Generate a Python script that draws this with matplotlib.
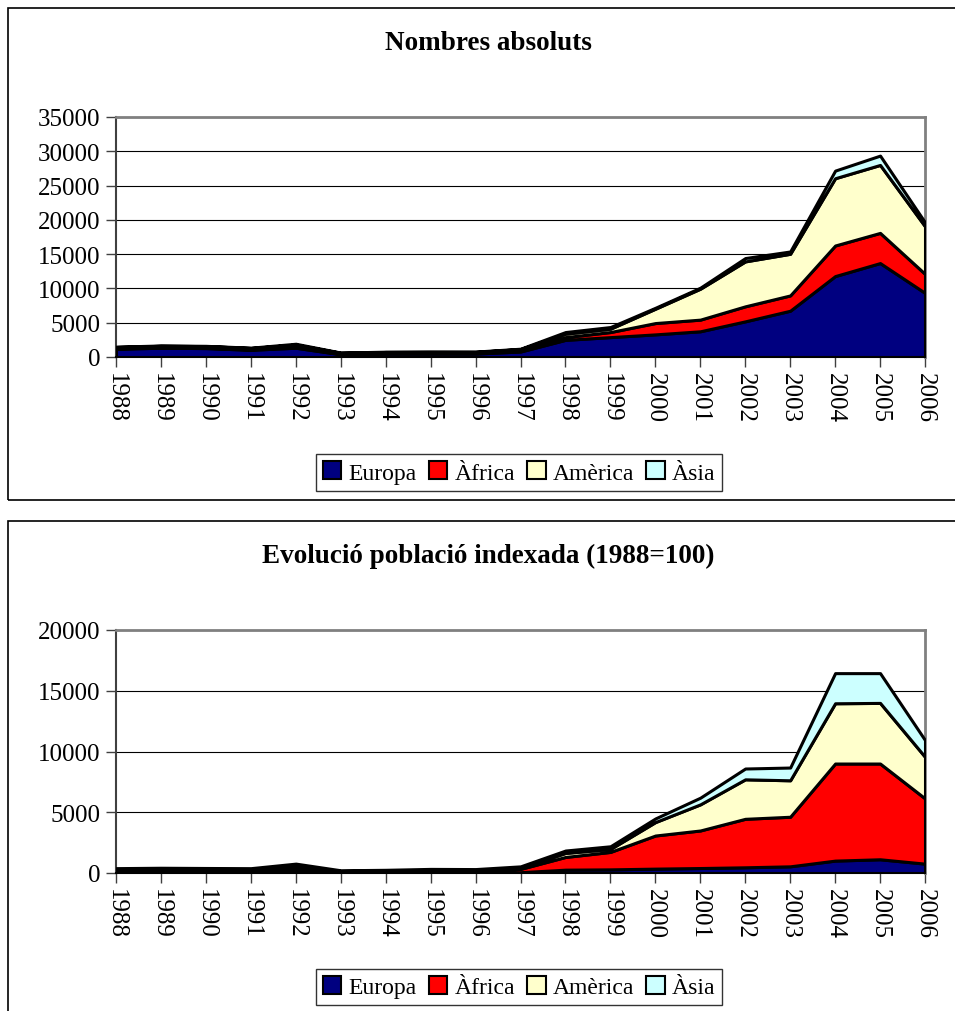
import matplotlib
matplotlib.use('agg')
import matplotlib.pyplot as plt
from matplotlib.patches import Rectangle, Patch

plt.rcParams['font.family'] = ['Liberation Serif', 'DejaVu Serif']

years = list(range(1988, 2007))
regions = ['Europa', 'Àfrica', 'Amèrica', 'Àsia']
colors = ['#000080', '#FF0000', '#FFFFCC', '#CCFFFF']

# absolute numbers (top chart)
europa_abs = [1200, 1350, 1300, 1050, 1350, 400, 500, 500, 500, 800,
              2500, 2900, 3300, 3750, 5200, 6750, 11800, 13700, 9350]
africa_abs = [55, 60, 60, 60, 140, 50, 60, 70, 80, 150,
              400, 740, 1650, 1700, 2190, 2230, 4460, 4400, 2770]
america_abs = [200, 220, 230, 200, 320, 160, 170, 170, 160, 200,
               500, 490, 2090, 4510, 6550, 6070, 9810, 9910, 6940]
asia_abs = [50, 50, 40, 50, 125, 40, 45, 60, 50, 60,
            240, 240, 140, 150, 490, 340, 1110, 1360, 580]

# indexed population, 1988 = 100 (bottom chart)
europa_idx = [100, 112, 108, 88, 112, 29, 38, 38, 38, 67,
              275, 300, 360, 410, 470, 550, 1020, 1130, 770]
africa_idx = [100, 110, 110, 110, 250, 75, 90, 110, 130, 270,
              1045, 1435, 2725, 3090, 3990, 4080, 7990, 7880, 5370]
america_idx = [100, 110, 115, 100, 160, 60, 65, 70, 65, 90,
               330, 245, 1105, 2150, 3250, 3000, 4960, 4990, 3420]
asia_idx = [100, 100, 80, 100, 250, 60, 70, 120, 90, 120,
            200, 220, 300, 550, 890, 1050, 2480, 2450, 1380]

W, H = 955, 1012
fig = plt.figure(figsize=(W / 100, H / 100), dpi=100)

# panel frames
fig.patches.append(Rectangle((8 / W, 1 - 500.5 / H), 1.0, 492 / H,
                             transform=fig.transFigure, fill=False,
                             edgecolor='black', linewidth=1.2))
fig.patches.append(Rectangle((8 / W, -0.05), 1.0, 1 - 522.5 / H + 0.05,
                             transform=fig.transFigure, fill=False,
                             edgecolor='black', linewidth=1.2))


def draw_panel(rect, series, ymax, title, title_y, legend_y):
    ax = fig.add_axes(rect)
    ax.stackplot(years, *series, colors=colors, edgecolor='black',
                 linewidth=2.2, zorder=3)
    ax.set_xlim(1988, 2006)
    ax.set_ylim(0, ymax)
    ax.set_yticks(range(0, ymax + 1, 5000))
    ax.set_xticks(years)
    ax.set_xticklabels([str(y) for y in years], rotation=-90)
    ax.yaxis.grid(True, color='black', linewidth=0.8, zorder=1)
    ax.set_axisbelow(True)
    ax.tick_params(axis='both', labelsize=18, direction='out', length=7,
                   width=1, color='#404040', pad=4)
    for s in ['top', 'right']:
        ax.spines[s].set_color('#808080')
        ax.spines[s].set_linewidth(2)
    ax.spines['left'].set_color('#404040')
    ax.spines['left'].set_linewidth(1.5)
    ax.spines['bottom'].set_color('black')
    ax.spines['bottom'].set_linewidth(1.5)
    fig.text(488 / W, title_y, title, ha='center', va='center',
             fontsize=19.5, fontweight='bold')
    handles = [Patch(facecolor=c, edgecolor='black', linewidth=1.5, label=r)
               for c, r in zip(colors, regions)]
    leg = fig.legend(handles=handles, loc='center', ncol=4,
                     bbox_to_anchor=(519 / W, legend_y), fontsize=17,
                     frameon=True, fancybox=False, handlelength=0.8,
                     handleheight=0.8, handletextpad=0.3, columnspacing=0.5,
                     borderpad=0.3, borderaxespad=0)
    leg.get_frame().set_edgecolor('black')
    leg.get_frame().set_linewidth(1)
    return ax


draw_panel([116 / W, 1 - 358 / H, 809 / W, 240 / H],
           [europa_abs, africa_abs, america_abs, asia_abs], 35000,
           'Nombres absoluts', 1 - 43 / H, 1 - 473.5 / H)
draw_panel([116 / W, 1 - 874 / H, 809 / W, 243 / H],
           [europa_idx, africa_idx, america_idx, asia_idx], 20000,
           'Evolució població indexada (1988=100)', 1 - 556 / H, 1 - 988 / H)

fig.savefig('out.png', dpi=100)
